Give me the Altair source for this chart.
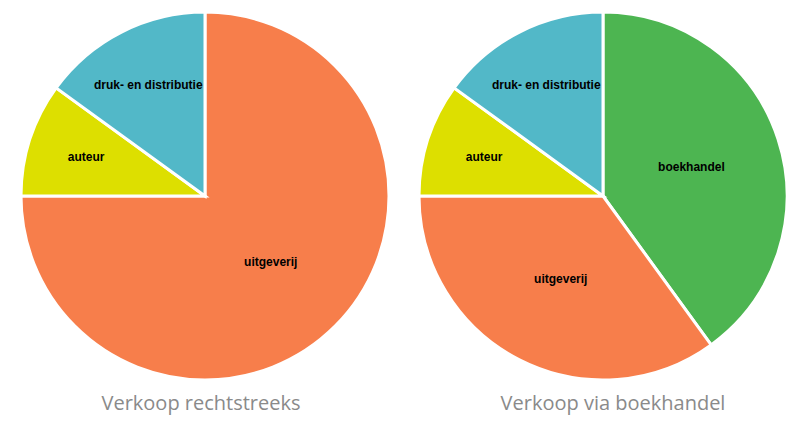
import altair as alt
import pandas as pd

# Data
left_categories = ["uitgeverij", "auteur", "druk- en distributie"]
left_values = [75, 10, 15]
right_categories = ["boekhandel", "uitgeverij", "auteur", "druk- en distributie"]
right_values = [40, 35, 10, 15]

panels = ["Verkoop rechtstreeks", "Verkoop via boekhandel"]

color_domain = ["boekhandel", "uitgeverij", "auteur", "druk- en distributie"]
color_range = ["#4DB551", "#F77E4B", "#DDDF00", "#52B8C8"]

rows = []
for p, cats, vals in [(panels[0], left_categories, left_values),
                      (panels[1], right_categories, right_values)]:
    for i, (c, v) in enumerate(zip(cats, vals)):
        rows.append({"paneel": p, "categorie": c, "waarde": v, "volgorde": i})
df = pd.DataFrame(rows)
titles = pd.DataFrame({"paneel": panels})

x_scale = alt.Scale(type="point", domain=panels, range=[197, 595], padding=0)
title_scale = alt.Scale(type="point", domain=panels, range=[193, 605], padding=0)
theta_scale = alt.Scale(domain=[0, 100], range=[0, 6.283185307179586])

base = alt.Chart(df).transform_window(
    t1="sum(waarde)", sort=[alt.SortField("volgorde")],
    groupby=["paneel"], frame=[None, 0],
).transform_calculate(
    t0="datum.t1 - datum.waarde",
    tm="datum.t1 - datum.waarde / 2",
    lr="datum.waarde >= 30 ? 93 : 125",
)

arcs = base.mark_arc(stroke="white", strokeWidth=3).encode(
    x=alt.X("paneel:N", scale=x_scale, axis=None),
    y=alt.value(188),
    theta=alt.Theta("t0:Q", scale=theta_scale, stack=None),
    theta2="t1:Q",
    radius=alt.value(184),
    color=alt.Color("categorie:N",
                    scale=alt.Scale(domain=color_domain, range=color_range),
                    legend=None),
)

labels = base.mark_text(font="Liberation Sans", fontSize=12,
                        fontWeight="bold", color="black").encode(
    x=alt.X("paneel:N", scale=x_scale, axis=None),
    y=alt.value(188),
    theta=alt.Theta("tm:Q", scale=theta_scale, stack=None),
    radius=alt.Radius("lr:Q", scale=None),
    text="categorie:N",
)

pies = alt.layer(arcs, labels)

title_text = alt.Chart(titles).mark_text(
    font="Open Sans", fontSize=20, color="#8A8A8A"
).encode(
    x=alt.X("paneel:N", scale=title_scale, axis=None),
    y=alt.value(396),
    text="paneel:N",
)

chart = alt.layer(pies, title_text).resolve_scale(x="independent").properties(
    width=784, height=412, padding=0,
    autosize=alt.AutoSizeParams(type="none"),
).configure_view(stroke=None)

chart.save("out.html", embed_options={"renderer": "svg", "actions": False})
